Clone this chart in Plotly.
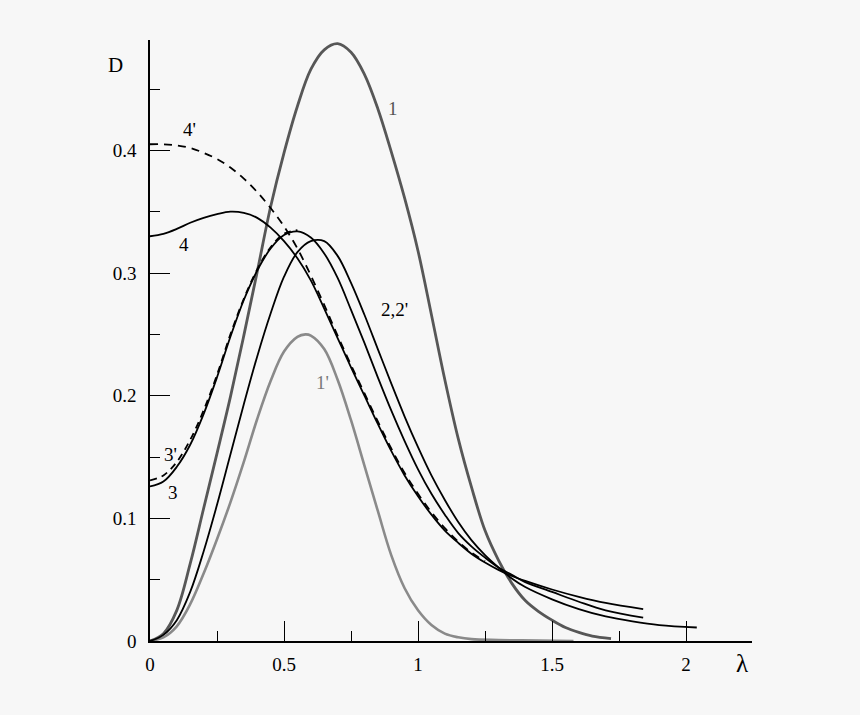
import plotly.graph_objects as go

# ---- data ----
lam1 = [0, 0.05, 0.1, 0.15, 0.2, 0.25, 0.3, 0.35, 0.4, 0.45, 0.5, 0.55, 0.6, 0.65, 0.7, 0.75, 0.8, 0.85,
        0.9, 0.95, 1.0, 1.05, 1.1, 1.15, 1.2, 1.25, 1.3, 1.35, 1.4, 1.45, 1.5, 1.55, 1.6, 1.65, 1.72]
d1 = [0, 0.006, 0.025, 0.063, 0.108, 0.153, 0.199, 0.249, 0.301, 0.354, 0.398, 0.436, 0.466, 0.482, 0.487,
      0.48, 0.462, 0.434, 0.399, 0.361, 0.318, 0.266, 0.213, 0.165, 0.125, 0.09, 0.066, 0.047, 0.033,
      0.024, 0.017, 0.011, 0.007, 0.004, 0.002]

lam1p = [0, 0.05, 0.1, 0.15, 0.2, 0.25, 0.3, 0.35, 0.4, 0.45, 0.5, 0.55, 0.58, 0.6, 0.65, 0.7, 0.75, 0.8,
         0.85, 0.9, 0.95, 1.0, 1.05, 1.1, 1.15, 1.2, 1.3, 1.45, 1.58]
d1p = [0, 0.003, 0.012, 0.03, 0.055, 0.083, 0.113, 0.146, 0.181, 0.212, 0.236, 0.248, 0.25, 0.249, 0.238,
       0.213, 0.18, 0.143, 0.106, 0.07, 0.043, 0.025, 0.013, 0.006, 0.003, 0.0015, 0.0008, 0.0003, 0.0]

lam2 = [0, 0.05, 0.1, 0.15, 0.2, 0.25, 0.3, 0.35, 0.4, 0.45, 0.5, 0.55, 0.6, 0.65, 0.7, 0.75, 0.8, 0.85,
        0.9, 0.95, 1.0, 1.05, 1.1, 1.15, 1.2, 1.25, 1.3, 1.35, 1.4, 1.5, 1.6, 1.7, 1.8, 1.9, 2.04]
d2 = [0, 0.005, 0.017, 0.04, 0.073, 0.111, 0.152, 0.193, 0.232, 0.267, 0.297, 0.317, 0.326, 0.326, 0.314,
      0.292, 0.266, 0.238, 0.21, 0.183, 0.158, 0.135, 0.115, 0.097, 0.082, 0.07, 0.06, 0.051, 0.044,
      0.034, 0.026, 0.02, 0.016, 0.013, 0.011]

lam3 = [0, 0.05, 0.1, 0.15, 0.2, 0.25, 0.3, 0.35, 0.4, 0.45, 0.5, 0.55, 0.6, 0.65, 0.7, 0.75, 0.8, 0.85,
        0.9, 0.95, 1.0, 1.05, 1.1, 1.15, 1.2, 1.25, 1.3, 1.35, 1.4, 1.5, 1.6, 1.7, 1.84]
d3 = [0.126, 0.13, 0.142, 0.16, 0.185, 0.215, 0.248, 0.278, 0.302, 0.32, 0.331, 0.334, 0.329, 0.316,
      0.296, 0.27, 0.243, 0.215, 0.188, 0.163, 0.14, 0.12, 0.103, 0.088, 0.077, 0.068, 0.06, 0.054,
      0.048, 0.04, 0.032, 0.025, 0.019]

lam3p = [0, 0.05, 0.1, 0.15, 0.2, 0.25, 0.3, 0.35, 0.4, 0.45, 0.5, 0.55]
d3p = [0.131, 0.135, 0.146, 0.164, 0.188, 0.217, 0.25, 0.279, 0.303, 0.321, 0.332, 0.335]

lam4 = [0, 0.05, 0.1, 0.15, 0.2, 0.25, 0.3, 0.35, 0.4, 0.45, 0.5, 0.55, 0.6, 0.65, 0.7, 0.75, 0.8, 0.85,
        0.9, 0.95, 1.0, 1.05, 1.1, 1.15, 1.2, 1.25, 1.3, 1.35, 1.4, 1.5, 1.6, 1.7, 1.84]
d4 = [0.33, 0.332, 0.336, 0.341, 0.345, 0.348, 0.35, 0.349, 0.345, 0.337, 0.326, 0.312, 0.294, 0.271,
      0.247, 0.223, 0.2, 0.177, 0.155, 0.135, 0.118, 0.103, 0.09, 0.08, 0.071, 0.064, 0.058, 0.053,
      0.049, 0.042, 0.036, 0.031, 0.026]

lam4p = [0, 0.05, 0.1, 0.15, 0.2, 0.25, 0.3, 0.35, 0.4, 0.45, 0.5, 0.55, 0.6, 0.65, 0.7, 0.75, 0.8, 0.85,
         0.9, 0.95, 1.0, 1.05, 1.1, 1.15, 1.2, 1.25]
d4p = [0.405, 0.405, 0.404, 0.402, 0.398, 0.393, 0.386, 0.377, 0.366, 0.353, 0.338, 0.32, 0.298, 0.274,
       0.249, 0.225, 0.202, 0.179, 0.157, 0.137, 0.12, 0.105, 0.092, 0.081, 0.072, 0.065]

x_major = [0, 0.5, 1, 1.5, 2]
x_major_text = ["0", "0.5", "1", "1.5", "2"]
y_major = [0, 0.1, 0.2, 0.3, 0.4]
y_major_text = ["0", "0.1", "0.2", "0.3", "0.4"]

curve_labels = ["1", "1'", "2,2'", "3'", "3", "4", "4'"]
label_x = [0.907, 0.643, 0.914, 0.076, 0.084, 0.125, 0.147]
label_y = [0.434, 0.211, 0.27, 0.152, 0.121, 0.323, 0.417]
label_colors = ["#555555", "#7a7a7a", "black", "black", "black", "black", "black"]

FONT = "Liberation Serif, Times New Roman, serif"
BG = "#f7f7f7"

fig = go.Figure()

def add(x, y, color, width, dash="solid"):
    fig.add_trace(go.Scatter(x=x, y=y, mode="lines", cliponaxis=False,
                             line=dict(color=color, width=width, dash=dash, shape="spline", smoothing=1.0),
                             showlegend=False, hoverinfo="skip"))

add(lam1p, d1p, "#8a8a8a", 2.6)
add(lam1, d1, "#575757", 2.8)
add(lam2, d2, "black", 1.8)
add(lam3, d3, "black", 1.8)
add(lam3p, d3p, "black", 1.8, "7px,5px")
add(lam4, d4, "black", 1.8)
add(lam4p, d4p, "black", 1.8, "8px,6px")

for t, x, y, c in zip(curve_labels, label_x, label_y, label_colors):
    fig.add_annotation(x=x, y=y, text=t, showarrow=False, xref="x", yref="y",
                       xanchor="center", yanchor="middle",
                       font=dict(family=FONT, size=19, color=c))

fig.add_annotation(x=-0.058, y=0.958, text="D", showarrow=False, xref="paper", yref="paper",
                   xanchor="center", yanchor="middle",
                   font=dict(family=FONT, size=21, color="black"))
fig.add_annotation(x=0.983, y=-0.037, text="λ", showarrow=False, xref="paper", yref="paper",
                   xanchor="center", yanchor="middle",
                   font=dict(family=FONT, size=25, color="black"))

fig.update_xaxes(range=[0, 2.246], showgrid=False, zeroline=False, showline=True, linecolor="black",
                 linewidth=1.5, ticks="inside", ticklen=20, tickwidth=1.2, tickcolor="black",
                 tickvals=x_major, ticktext=x_major_text, ticklabelstandoff=5,
                 minor=dict(ticks="inside", ticklen=10, tickwidth=1.2, tickcolor="black", dtick=0.25, tick0=0),
                 tickfont=dict(family=FONT, size=19, color="black"))
fig.update_yaxes(range=[0, 0.49], showgrid=False, zeroline=False, showline=True, linecolor="black",
                 linewidth=1.5, ticks="inside", ticklen=20, tickwidth=1.2, tickcolor="black",
                 tickvals=y_major, ticktext=y_major_text, ticklabelstandoff=8,
                 minor=dict(ticks="inside", ticklen=10, tickwidth=1.2, tickcolor="black", dtick=0.05, tick0=0),
                 tickfont=dict(family=FONT, size=19, color="black"))

fig.update_layout(width=860, height=715, margin=dict(l=150, r=108, t=40, b=74),
                  paper_bgcolor=BG, plot_bgcolor=BG)

fig.write_html("out.html", config={"displayModeBar": False},
               post_script="document.body.style.margin='0';document.body.style.background='#f7f7f7';"
                           "document.body.style.overflow='hidden';")
